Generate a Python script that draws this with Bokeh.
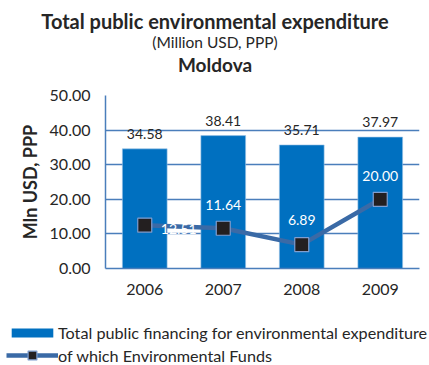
from bokeh.plotting import figure
from bokeh.layouts import column
from bokeh.models import (ColumnDataSource, Legend, LegendItem, Title, FactorRange,
                          Range1d, FixedTicker, NumeralTickFormatter)
from bokeh.core.properties import value
from bokeh.embed import file_html
from bokeh.resources import INLINE

years = ["2006", "2007", "2008", "2009"]
total_financing = [34.58, 38.41, 35.71, 37.97]
env_funds = [12.51, 11.64, 6.89, 20.00]
y_ticks = [0, 10, 20, 30, 40, 50]
title_main = "Total public environmental expenditure"
title_unit = "(Million USD, PPP)"
title_country = "Moldova"
series_names = ["Total public financing for environmental expenditure",
                "of which Environmental Funds"]

FONT = "Lato"
BAR = "#0070C0"
LINE = "#3A6AA6"
TXT = "#262626"
GRID = "#4A7EBB"
W = 429

src = ColumnDataSource(dict(x=years, total=total_financing, funds=env_funds,
                            tl=["%.2f" % v for v in total_financing],
                            fl=["%.2f" % v for v in env_funds],
                            fx=[34, 0, 0, 0], fy=[4, -23, -25, -23]))

# ---------- header with titles ----------
head = figure(width=W, height=85, output_backend="svg", toolbar_location=None,
              title=None, x_axis_type=None, y_axis_type=None, frame_align=False,
              min_border_left=0, min_border_right=0, min_border_top=75,
              min_border_bottom=0, x_range=Range1d(0, 1), y_range=Range1d(0, 1))
head.outline_line_color = None
head.xgrid.visible = False
head.ygrid.visible = False
for text, size, style, so in [(title_country, "19px", "bold", 0),
                              (title_unit, "15.5px", "normal", 0),
                              (title_main, "20px", "bold", -4)]:
    head.add_layout(Title(text=text, align="center", standoff=so,
                          text_font=FONT, text_font_size=size, text_font_style=style,
                          text_color=TXT), "above")

# ---------- chart ----------
p = figure(x_range=FactorRange(*years), y_range=Range1d(0, 50),
           width=W, height=220, output_backend="svg", toolbar_location=None,
           title=None, min_border_left=105, min_border_right=10, frame_align=False,
           min_border_top=10, min_border_bottom=37)
p.outline_line_color = None

p.vbar(x="x", top="total", width=0.57, source=src, fill_color=BAR,
       line_color="#9CC3E6", line_width=0.6)
p.line(x="x", y="funds", source=src, line_color=LINE, line_width=4.5)
p.scatter(x="x", y="funds", source=src, marker="square", size=14,
          fill_color="#231F20", line_color="#7F9ED0", line_width=1.2)

p.text(x="x", y="total", text="tl", source=src, text_font=value(FONT),
       text_font_size="14px", text_color=TXT, text_align="center",
       text_baseline="bottom", y_offset=-10)
p.text(x="x", y="funds", text="fl", source=src, text_font=value(FONT),
       text_font_size="14px", text_color="white", text_align="center",
       text_baseline="middle", x_offset="fx", y_offset="fy")

p.yaxis.ticker = FixedTicker(ticks=y_ticks)
p.yaxis.formatter = NumeralTickFormatter(format="0.00")
p.yaxis.axis_label = "Mln USD, PPP"
p.yaxis.axis_label_text_font = FONT
p.yaxis.axis_label_text_font_size = "18px"
p.yaxis.axis_label_text_font_style = "bold"
p.yaxis.axis_label_text_color = TXT
p.yaxis.axis_label_standoff = 6
for ax in (p.xaxis, p.yaxis):
    ax.major_label_text_font = FONT
    ax.major_label_text_font_size = "16px"
    ax.major_label_text_color = TXT
    ax.major_tick_line_color = None
    ax.minor_tick_line_color = None
    ax.major_tick_out = 0
    ax.major_tick_in = 0
    ax.axis_line_color = GRID
    ax.axis_line_width = 1.5
    ax.major_label_standoff = 15
p.xgrid.grid_line_color = None
p.ygrid.grid_line_color = GRID
p.ygrid.grid_line_width = 1.5
p.ygrid.ticker = FixedTicker(ticks=y_ticks)

# ---------- legend strip (proxies use the same data, kept out of view) ----------
lg = figure(width=W, height=60, output_backend="svg", toolbar_location=None,
            title=None, x_axis_type=None, y_axis_type=None, frame_align=False,
            min_border_left=0, min_border_right=0, min_border_top=0,
            min_border_bottom=0, x_range=FactorRange(*years), y_range=Range1d(1000, 1001))
lg.outline_line_color = None
lg.xgrid.visible = False
lg.ygrid.visible = False
r_bar = lg.vbar(x="x", top="total", width=0.5, source=src, fill_color=BAR, line_color=None)
r_line = lg.line(x="x", y="funds", source=src, line_color=LINE, line_width=4.5)
r_mk = lg.scatter(x="x", y="funds", source=src, marker="square", fill_color="#231F20",
                  line_color="#7F9ED0", line_width=1.2)

common = dict(glyph_width=52, label_standoff=0, padding=0, margin=0,
              border_line_color=None, background_fill_alpha=0, label_text_font=FONT,
              label_text_font_size="16.2px", label_text_color=TXT)
leg1 = Legend(items=[LegendItem(label=series_names[0], renderers=[r_bar])],
              location=(6, 23), glyph_height=11, label_height=11, **common)
leg2 = Legend(items=[LegendItem(label=series_names[1], renderers=[r_line, r_mk])],
              location=(6, -1), glyph_height=22, label_height=22, **common)
lg.add_layout(leg1)
lg.add_layout(leg2)

layout = column(head, p, lg, spacing=0)
open("out.html", "w").write(file_html(layout, INLINE))
